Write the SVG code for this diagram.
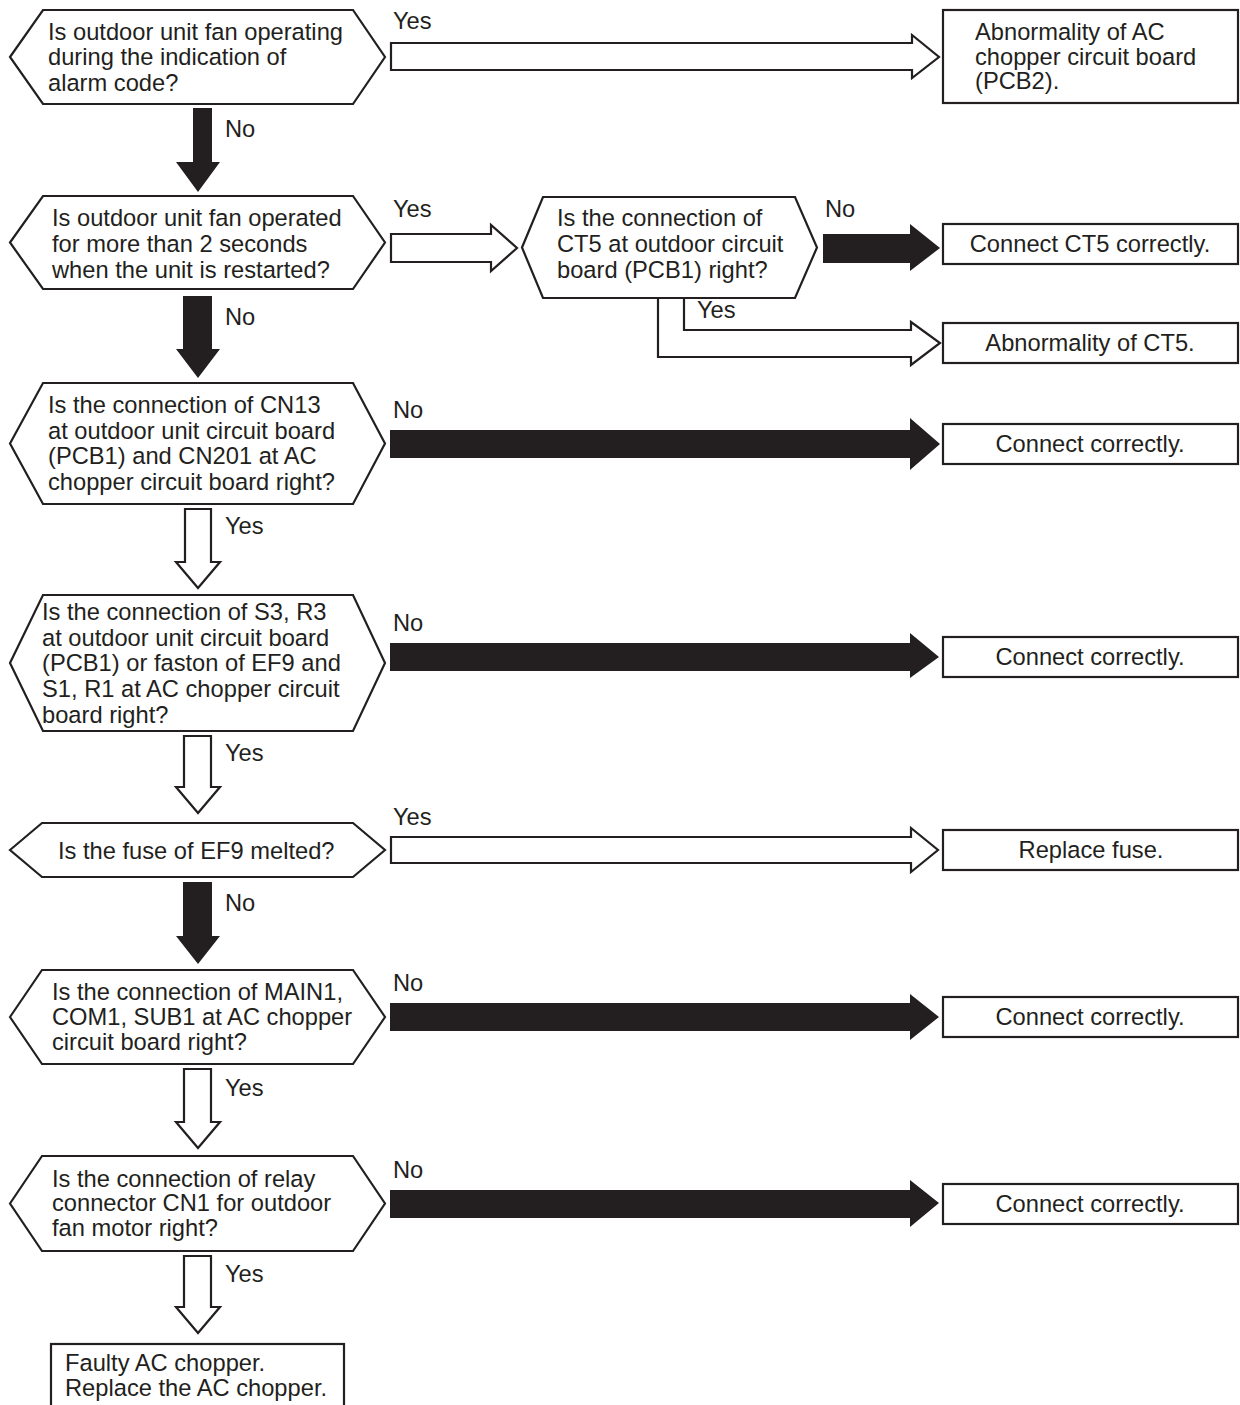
<svg xmlns="http://www.w3.org/2000/svg" width="1240" height="1405" viewBox="0 0 1240 1405">
<style>
.n{fill:#fff;stroke:#231f20;stroke-width:2.2;stroke-linejoin:miter}
.ho{fill:#fff;stroke:#231f20;stroke-width:2.2;stroke-linejoin:miter}
.bk{fill:#231f20;stroke:none}
text{font-family:"Liberation Sans",Arial,Helvetica,sans-serif;font-size:23.7px;fill:#231f20}
.c{text-anchor:middle}
</style>
<rect width="1240" height="1405" fill="#fff"/>
<g id="connectors">
<polygon class="ho" points="391,43 912,43 912,35 939,57 912,78 912,70 391,70"/>
<polygon class="bk" points="193,108 212,108 212,162 220,162 198,192 176,162 193,162"/>
<polygon class="ho" points="391,234 491,234 491,225 517,248 491,271 491,262 391,262"/>
<polygon class="bk" points="823,234 910,234 910,224 940,248 910,271 910,263 823,263"/>
<polygon class="ho" points="658,298 684,298 684,330 911,330 911,322 940,343 911,365 911,357 658,357"/>
<polygon class="bk" points="183,296 212,296 212,349 220,349 198,378 176,349 183,349"/>
<polygon class="bk" points="390,430 910,430 910,418 940,444 910,470 910,458 390,458"/>
<polygon class="ho" points="185,509 211,509 211,562 220,562 198,588 176,562 185,562"/>
<polygon class="bk" points="390,643 910,643 910,633 939,657 910,678 910,671 390,671"/>
<polygon class="ho" points="184,736 211,736 211,787 220,787 198,813 176,787 184,787"/>
<polygon class="ho" points="391,837 911,837 911,828 938,850 911,872 911,863 391,863"/>
<polygon class="bk" points="183,882 212,882 212,936 220,936 198,964 176,936 183,936"/>
<polygon class="bk" points="390,1003 910,1003 910,994 939,1017 910,1040 910,1031 390,1031"/>
<polygon class="ho" points="184,1069 211,1069 211,1122 220,1122 198,1148 176,1122 184,1122"/>
<polygon class="bk" points="390,1190 910,1190 910,1180 939,1203 910,1227 910,1218 390,1218"/>
<polygon class="ho" points="184,1256 211,1256 211,1307 220,1307 198,1333 176,1307 184,1307"/>
<text x="393" y="29">Yes</text>
<text x="225" y="137">No</text>
<text x="393" y="217">Yes</text>
<text x="825" y="217">No</text>
<text x="697" y="318">Yes</text>
<text x="225" y="325">No</text>
<text x="393" y="418">No</text>
<text x="225" y="534">Yes</text>
<text x="393" y="631">No</text>
<text x="225" y="761">Yes</text>
<text x="393" y="825">Yes</text>
<text x="225" y="911">No</text>
<text x="393" y="991">No</text>
<text x="225" y="1096">Yes</text>
<text x="393" y="1178">No</text>
<text x="225" y="1282">Yes</text>
</g>
<g id="q1">
<polygon class="n" points="10,57 43,10 353,10 385,57 353,104 43,104"/>
<text x="48" y="40">Is outdoor unit fan operating</text>
<text x="48" y="65">during the indication of</text>
<text x="48" y="91">alarm code?</text>
</g>
<g id="r1">
<rect class="n" x="943" y="10" width="295" height="93"/>
<text x="975" y="40">Abnormality of AC</text>
<text x="975" y="65">chopper circuit board</text>
<text x="975" y="89">(PCB2).</text>
</g>
<g id="q2">
<polygon class="n" points="10,242.5 43,196 353,196 385,242.5 353,289 43,289"/>
<text x="52" y="226">Is outdoor unit fan operated</text>
<text x="52" y="252">for more than 2 seconds</text>
<text x="52" y="278">when the unit is restarted?</text>
</g>
<g id="q2b">
<polygon class="n" points="522,247.5 543,197 795,197 817,247.5 795,298 543,298"/>
<text x="557" y="226">Is the connection of</text>
<text x="557" y="252">CT5 at outdoor circuit</text>
<text x="557" y="278">board (PCB1) right?</text>
</g>
<g id="r2">
<rect class="n" x="943" y="224" width="295" height="40"/>
<text class="c" x="1090" y="252">Connect CT5 correctly.</text>
</g>
<g id="r3">
<rect class="n" x="943" y="323" width="295" height="40"/>
<text class="c" x="1090" y="351">Abnormality of CT5.</text>
</g>
<g id="q3">
<polygon class="n" points="10,443.5 43,383 353,383 385,443.5 353,504 43,504"/>
<text x="48" y="413">Is the connection of CN13</text>
<text x="48" y="439">at outdoor unit circuit board</text>
<text x="48" y="464">(PCB1) and CN201 at AC</text>
<text x="48" y="490">chopper circuit board right?</text>
</g>
<g id="r4">
<rect class="n" x="943" y="424" width="295" height="40"/>
<text class="c" x="1090" y="452">Connect correctly.</text>
</g>
<g id="q4">
<polygon class="n" points="10,663 43,595 353,595 385,663 353,731 43,731"/>
<text x="42" y="620">Is the connection of S3, R3</text>
<text x="42" y="646">at outdoor unit circuit board</text>
<text x="42" y="671">(PCB1) or faston of EF9 and</text>
<text x="42" y="697">S1, R1 at AC chopper circuit</text>
<text x="42" y="723">board right?</text>
</g>
<g id="r5">
<rect class="n" x="943" y="637" width="295" height="40"/>
<text class="c" x="1090" y="665">Connect correctly.</text>
</g>
<g id="q5">
<polygon class="n" points="10,850 42,823 353,823 385,850 353,877 42,877"/>
<text x="58" y="859">Is the fuse of EF9 melted?</text>
</g>
<g id="r6">
<rect class="n" x="943" y="830" width="295" height="40"/>
<text class="c" x="1091" y="858">Replace fuse.</text>
</g>
<g id="q6">
<polygon class="n" points="10,1017 42,970 353,970 385,1017 353,1064 42,1064"/>
<text x="52" y="1000">Is the connection of MAIN1,</text>
<text x="52" y="1025">COM1, SUB1 at AC chopper</text>
<text x="52" y="1050">circuit board right?</text>
</g>
<g id="r7">
<rect class="n" x="943" y="997" width="295" height="40"/>
<text class="c" x="1090" y="1025">Connect correctly.</text>
</g>
<g id="q7">
<polygon class="n" points="10,1203.5 42,1156 353,1156 385,1203.5 353,1251 42,1251"/>
<text x="52" y="1187">Is the connection of relay</text>
<text x="52" y="1211">connector CN1 for outdoor</text>
<text x="52" y="1236">fan motor right?</text>
</g>
<g id="r8">
<rect class="n" x="943" y="1184" width="295" height="40"/>
<text class="c" x="1090" y="1212">Connect correctly.</text>
</g>
<g id="r9">
<rect class="n" x="51" y="1344" width="293" height="80"/>
<text x="65" y="1371">Faulty AC chopper.</text>
<text x="65" y="1396">Replace the AC chopper.</text>
</g>
</svg>
